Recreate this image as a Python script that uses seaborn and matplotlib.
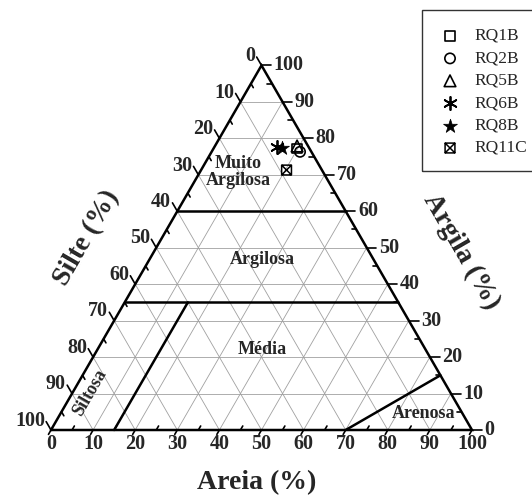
import numpy as np
import pandas as pd
import matplotlib
matplotlib.use("Agg")
import matplotlib.pyplot as plt
from matplotlib.path import Path
from matplotlib.patches import Rectangle
import seaborn as sns

# ---------------- data ----------------
samples = ["RQ1B", "RQ2B", "RQ5B", "RQ6B", "RQ8B", "RQ11C"]
areia = [19.8, 21.0, 19.5, 14.9, 16.2, 20.3]      # sand %
argila = [77.2, 76.3, 77.9, 77.7, 77.4, 71.3]     # clay %
silte = [100 - a - c for a, c in zip(areia, argila)]

tick_values = [0, 10, 20, 30, 40, 50, 60, 70, 80, 90, 100]
class_names = ["Muito\nArgilosa", "Argilosa", "Média", "Siltosa", "Arenosa"]

# ---------------- setup ----------------
sns.set_theme(style="white")
plt.rcParams["font.family"] = ["Liberation Serif", "DejaVu Serif"]

W, H = 532, 500
PX = 4.21          # pixels per percent unit
X0, Y0 = 51, 430   # pixel position of the bottom-left vertex
S3 = np.sqrt(3) / 2

fig = plt.figure(figsize=(W / 100, H / 100), dpi=100)
ax = fig.add_axes([0, 0, 1, 1])
ax.set_xlim(-X0 / PX, (W - X0) / PX)
ax.set_ylim((Y0 - H) / PX, Y0 / PX)
ax.set_aspect("equal", adjustable="box")
ax.axis("off")


def tern(sand, clay):
    sand = np.asarray(sand, dtype=float)
    clay = np.asarray(clay, dtype=float)
    return sand + clay / 2.0, clay * S3


def pix(px, py):
    return (px - X0) / PX, (Y0 - py) / PX


def seg(p, q, **kw):
    ax.plot([p[0], q[0]], [p[1], q[1]], **kw)


# grid lines
grid_kw = dict(color="#a0a0a0", lw=0.6, zorder=1, solid_capstyle="butt")
for v in range(10, 100, 10):
    seg(tern(0, v), tern(100 - v, v), **grid_kw)          # const clay
    seg(tern(v, 0), tern(v, 100 - v), **grid_kw)          # const sand
    seg(tern(100 - v, 0), tern(0, 100 - v), **grid_kw)    # const silt

# outer triangle
tri = [tern(0, 0), tern(100, 0), tern(0, 100), tern(0, 0)]
ax.plot([p[0] for p in tri], [p[1] for p in tri], color="black", lw=1.8,
        zorder=3, solid_joinstyle="miter")

# class boundaries
bkw = dict(color="black", lw=1.8, zorder=3)
seg(tern(0, 60), tern(40, 60), **bkw)
seg(tern(0, 35), tern(65, 35), **bkw)
seg(tern(15, 0), tern(15, 35), **bkw)
seg(tern(70, 0), tern(85, 15), **bkw)

# ticks and tick labels
tfs = 14.5
tkw = dict(color="black", lw=1.2, zorder=3)
L = 2.3   # major tick length
l = 1.1   # minor tick length
for v in range(0, 101, 5):
    major = v % 10 == 0
    b = np.array(tern(v, 0))
    d = np.array([-0.5, -S3])
    if major:
        seg(b, b + d * 1.2, **tkw)
    else:
        seg(b, b - d * l, **tkw)
    r = np.array(tern(100 - v, v))
    d = np.array([1.0, 0.0])
    if major:
        seg(r, r + d * L, **tkw)
    else:
        seg(r, r - d * l, **tkw)
    lp = np.array(tern(0, 100 - v))
    d = np.array([-0.5, S3])
    if major:
        seg(lp, lp + d * L, **tkw)
    else:
        seg(lp, lp - d * l, **tkw)

for v in tick_values:
    b = np.array(tern(v, 0))
    ax.text(b[0], b[1] - 3.3, str(v), ha="center", va="center",
            fontsize=tfs, fontweight="bold", zorder=4)
    r = np.array(tern(100 - v, v))
    ax.text(r[0] + 2.9, r[1], str(v), ha="left", va="center",
            fontsize=tfs, fontweight="bold", zorder=4)
    lp = np.array(tern(0, 100 - v)) + np.array([-0.5, S3]) * L
    ax.text(lp[0] - 0.3, lp[1] + 0.2, str(v), ha="right", va="center",
            fontsize=tfs, fontweight="bold", zorder=4)

# class labels
cfs = 13
ax.text(*pix(238, 172), class_names[0], ha="center", va="center",
        fontsize=cfs, fontweight="bold", linespacing=1.05, zorder=4)
ax.text(*pix(262, 259), class_names[1], ha="center", va="center",
        fontsize=cfs, fontweight="bold", zorder=4)
ax.text(*pix(262, 350), class_names[2], ha="center", va="center",
        fontsize=cfs, fontweight="bold", zorder=4)
ax.text(*pix(90, 393), class_names[3], ha="center", va="center",
        fontsize=cfs, fontweight="bold", rotation=60,
        rotation_mode="anchor", zorder=4)
ax.text(*pix(424, 414), class_names[4], ha="center", va="center",
        fontsize=cfs, fontweight="bold", zorder=4)

# axis titles
afs = 20
ax.text(*pix(257, 483), "Areia (%)", ha="center", va="center",
        fontsize=afs, fontweight="bold")
ax.text(*pix(87, 238), "Silte (%)", ha="center", va="center",
        fontsize=afs, fontweight="bold", rotation=60, rotation_mode="anchor")
ax.text(*pix(461, 252), "Argila (%)", ha="center", va="center",
        fontsize=afs, fontweight="bold", rotation=-60, rotation_mode="anchor")

# data points
xs, ys = tern(areia, argila)
df = pd.DataFrame({"amostra": samples, "x": xs, "y": ys,
                   "areia": areia, "silte": silte, "argila": argila})

box_x = Path([(-1, -1), (1, -1), (1, 1), (-1, 1), (-1, -1),
              (-1, -1), (1, 1), (-1, 1), (1, -1)],
             [Path.MOVETO, Path.LINETO, Path.LINETO, Path.LINETO, Path.CLOSEPOLY,
              Path.MOVETO, Path.LINETO, Path.MOVETO, Path.LINETO])
styles = {
    "RQ1B": dict(marker="s", s=45, facecolor="none", edgecolor="black", linewidth=1.2),
    "RQ2B": dict(marker="o", s=55, facecolor="none", edgecolor="black", linewidth=1.2),
    "RQ5B": dict(marker="^", s=70, facecolor="none", edgecolor="black", linewidth=1.2),
    "RQ6B": dict(marker=(6, 2, 0), s=90, color="black", linewidth=1.3),
    "RQ8B": dict(marker="*", s=110, facecolor="black", edgecolor="black", linewidth=0.5),
    "RQ11C": dict(marker=box_x, s=50, facecolor="none", edgecolor="black", linewidth=1.1),
}
for i, name in enumerate(samples):
    sns.scatterplot(data=df.iloc[[i]], x="x", y="y", ax=ax,
                    zorder=5, legend=False, **styles[name])

# legend (drawn as a key box in the top-right corner, cut by the figure edge)
row0, pitch = 36.0, 22.4
for i, name in enumerate(samples):
    py = row0 + pitch * i
    mx, my = pix(450, py)
    ax.scatter([mx], [my], zorder=6, clip_on=False, **styles[name])
    tx, ty = pix(474, py)
    ax.text(tx, ty, name, ha="left", va="center", fontsize=12.5, zorder=6)
fig.patches.append(Rectangle((422 / W, 1 - 171 / H), (W + 10 - 422) / W,
                             (171 - 10) / H, transform=fig.transFigure,
                             fill=False, edgecolor="#333333", lw=1.0,
                             figure=fig))

fig.savefig("out.png", dpi=100, facecolor="white")
